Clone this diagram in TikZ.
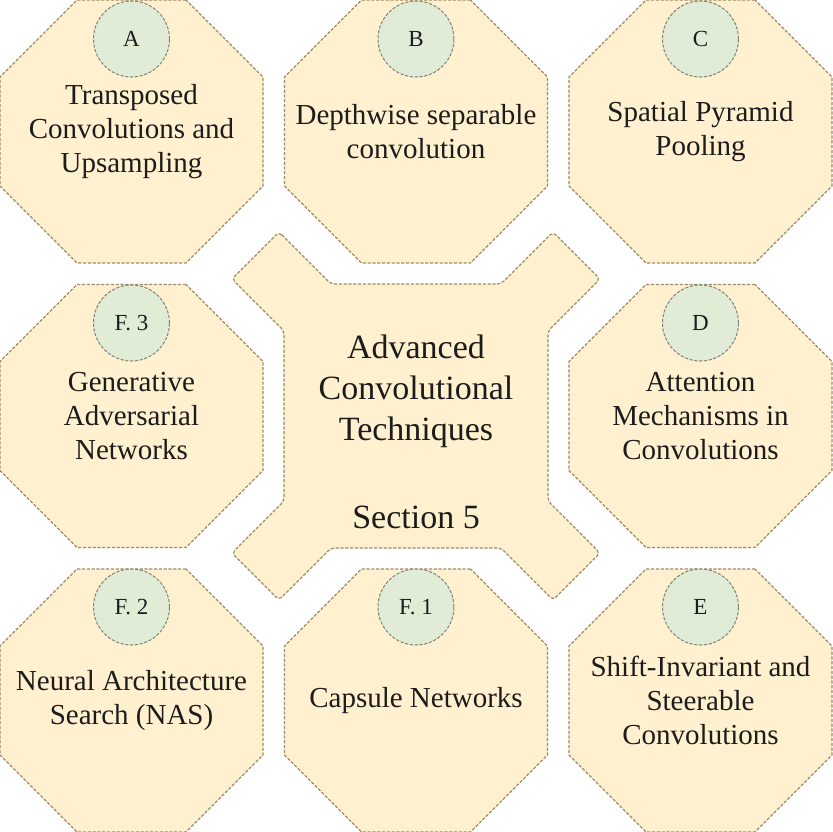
\documentclass[tikz,border=0pt]{standalone}
\usepackage{fontspec}
\setmainfont{Liberation Serif}
\usetikzlibrary{shapes.geometric}

\definecolor{octfill}{RGB}{255,240,207}
\definecolor{octline}{RGB}{160,140,100}
\definecolor{tagfill}{RGB}{224,236,214}
\definecolor{tagline}{RGB}{130,130,120}
\definecolor{inktext}{RGB}{28,28,28}

\tikzset{
  oct/.style={regular polygon, regular polygon sides=8, minimum size=142.3pt,
    inner sep=0pt, outer sep=0pt, fill=octfill, draw=octline,
    line width=0.6pt, dash pattern=on 1.6pt off 0.8pt},
  tag/.style={circle, minimum size=38pt, inner sep=0pt, fill=tagfill,
    draw=tagline, line width=0.5pt, dash pattern=on 1.6pt off 0.8pt,
    text=inktext, font=\fontsize{11.5}{13}\selectfont},
  octtext/.style={align=center, text=inktext, inner sep=0pt,
    font=\fontsize{14.5}{17}\selectfont},
  hubtext/.style={align=center, text=inktext, inner sep=0pt,
    font=\fontsize{17}{20.5}\selectfont},
}

\begin{document}
\begin{tikzpicture}[x=0.5pt,y=-0.5pt] %Técnicas convolucionales avanzadas
            \useasboundingbox (0,0) rectangle (832,832);

            % octágonos
            \node[oct] (octA)  at (131.5,131.5) {};
            \node[oct] (octB)  at (416,131.5)   {};
            \node[oct] (octC)  at (700.5,131.5) {};
            \node[oct] (octF3) at (131.5,416)   {};
            \node[oct] (octD)  at (700.5,416)   {};
            \node[oct] (octF2) at (131.5,700.5) {};
            \node[oct] (octF1) at (416,700.5)   {};
            \node[oct] (octE)  at (700.5,700.5) {};

            % figura central
            \coordinate (hub) at (416,416);
            \draw[fill=octfill, draw=octline, line width=0.6pt,
                  dash pattern=on 1.6pt off 0.8pt, rounded corners=2pt]
              ([shift={(-137,-184)}]hub) -- ([shift={(-85,-132)}]hub)
              -- ([shift={(85,-132)}]hub) -- ([shift={(137,-184)}]hub)
              -- ([shift={(184,-137)}]hub) -- ([shift={(132,-85)}]hub)
              -- ([shift={(132,85)}]hub) -- ([shift={(184,137)}]hub)
              -- ([shift={(137,184)}]hub) -- ([shift={(85,132)}]hub)
              -- ([shift={(-85,132)}]hub) -- ([shift={(-137,184)}]hub)
              -- ([shift={(-184,137)}]hub) -- ([shift={(-132,85)}]hub)
              -- ([shift={(-132,-85)}]hub) -- ([shift={(-184,-137)}]hub)
              -- cycle;

            \node[hubtext] (title) at (416,391) {Advanced\\Convolutional\\Techniques};
            \node[hubtext] (section) at (416,517) {Section 5};

            % etiquetas
            \node[tag] (tagA)  at (131.5,39)  {A};
            \node[tag] (tagB)  at (416,39)    {B};
            \node[tag] (tagC)  at (700.5,39)  {C};
            \node[tag] (tagF3) at (131.5,323) {F. 3};
            \node[tag] (tagD)  at (700.5,323) {D};
            \node[tag] (tagF2) at (131.5,607) {F. 2};
            \node[tag] (tagF1) at (416,607)   {F. 1};
            \node[tag] (tagE)  at (700.5,607) {E};

            % textos
            \node[octtext] (textA)  at (octA)  {Transposed\\Convolutions and\\Upsampling};
            \node[octtext] (textB)  at (octB)  {Depthwise separable\\convolution};
            \node[octtext] (textC)  at (octC)  {Spatial Pyramid\\Pooling};
            \node[octtext] (textF3) at (octF3) {Generative\\Adversarial\\Networks};
            \node[octtext] (textD)  at (octD)  {Attention\\Mechanisms in\\Convolutions};
            \node[octtext] (textF2) at (octF2) {Neural Architecture\\Search (NAS)};
            \node[octtext] (textF1) at (octF1) {Capsule Networks};
            \node[octtext] (textE)  at (octE)  {Shift-Invariant and\\Steerable\\Convolutions};
        \end{tikzpicture}
\end{document}
